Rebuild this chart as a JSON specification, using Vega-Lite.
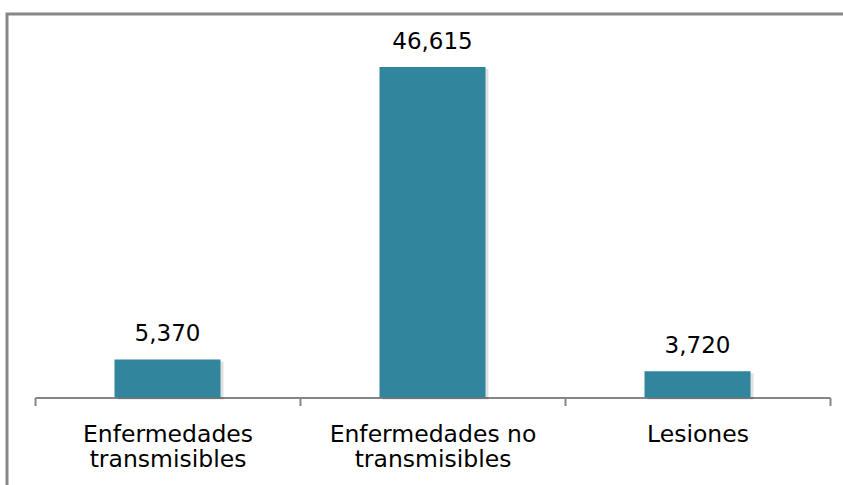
{
  "$schema": "https://vega.github.io/schema/vega-lite/v6.json",
  "autosize": {"type": "none"},
  "padding": {"left": 7, "top": 14, "right": 0, "bottom": 0},
  "width": 850,
  "height": 480,
  "background": "white",
  "config": {
    "view": {"stroke": "#878787", "strokeWidth": 3},
    "font": "DejaVu Sans"
  },
  "data": {
    "values": [
      {"categoria": "Enfermedades transmisibles", "defunciones": 5370},
      {"categoria": "Enfermedades no transmisibles", "defunciones": 46615},
      {"categoria": "Lesiones", "defunciones": 3720}
    ]
  },
  "encoding": {
    "x": {
      "field": "categoria",
      "type": "nominal",
      "sort": null,
      "scale": {"range": [28, 823], "paddingInner": 0, "paddingOuter": 0},
      "axis": {
        "title": null,
        "orient": "bottom",
        "offset": -96.5,
        "labelAngle": 0,
        "domainColor": "#868686",
        "domainWidth": 2,
        "tickColor": "#868686",
        "tickWidth": 2,
        "tickSize": 8,
        "tickBand": "extent",
        "labelFontSize": 23.5,
        "labelColor": "#000000",
        "labelFont": "DejaVu Sans",
        "labelPadding": 17,
        "labelLineHeight": 24.5,
        "labelLimit": 0,
        "labelBaseline": "top",
        "labelExpr": "datum.value == 'Enfermedades transmisibles' ? ['Enfermedades', 'transmisibles'] : datum.value == 'Enfermedades no transmisibles' ? ['Enfermedades no', 'transmisibles'] : datum.value"
      }
    },
    "y": {
      "field": "defunciones",
      "type": "quantitative",
      "scale": {"domain": [0, 50000], "range": [383.5, 29], "nice": false},
      "axis": null
    }
  },
  "layer": [
    {
      "mark": {"type": "bar", "width": {"band": 0.4}, "color": "#000000", "opacity": 0.12, "xOffset": 3, "yOffset": 2}
    },
    {
      "mark": {"type": "bar", "width": {"band": 0.4}, "color": "#31859C"}
    },
    {
      "mark": {"type": "text", "baseline": "alphabetic", "dy": -18, "fontSize": 23, "color": "#000000", "font": "DejaVu Sans"},
      "encoding": {
        "text": {"field": "defunciones", "type": "quantitative", "format": ","}
      }
    }
  ]
}
